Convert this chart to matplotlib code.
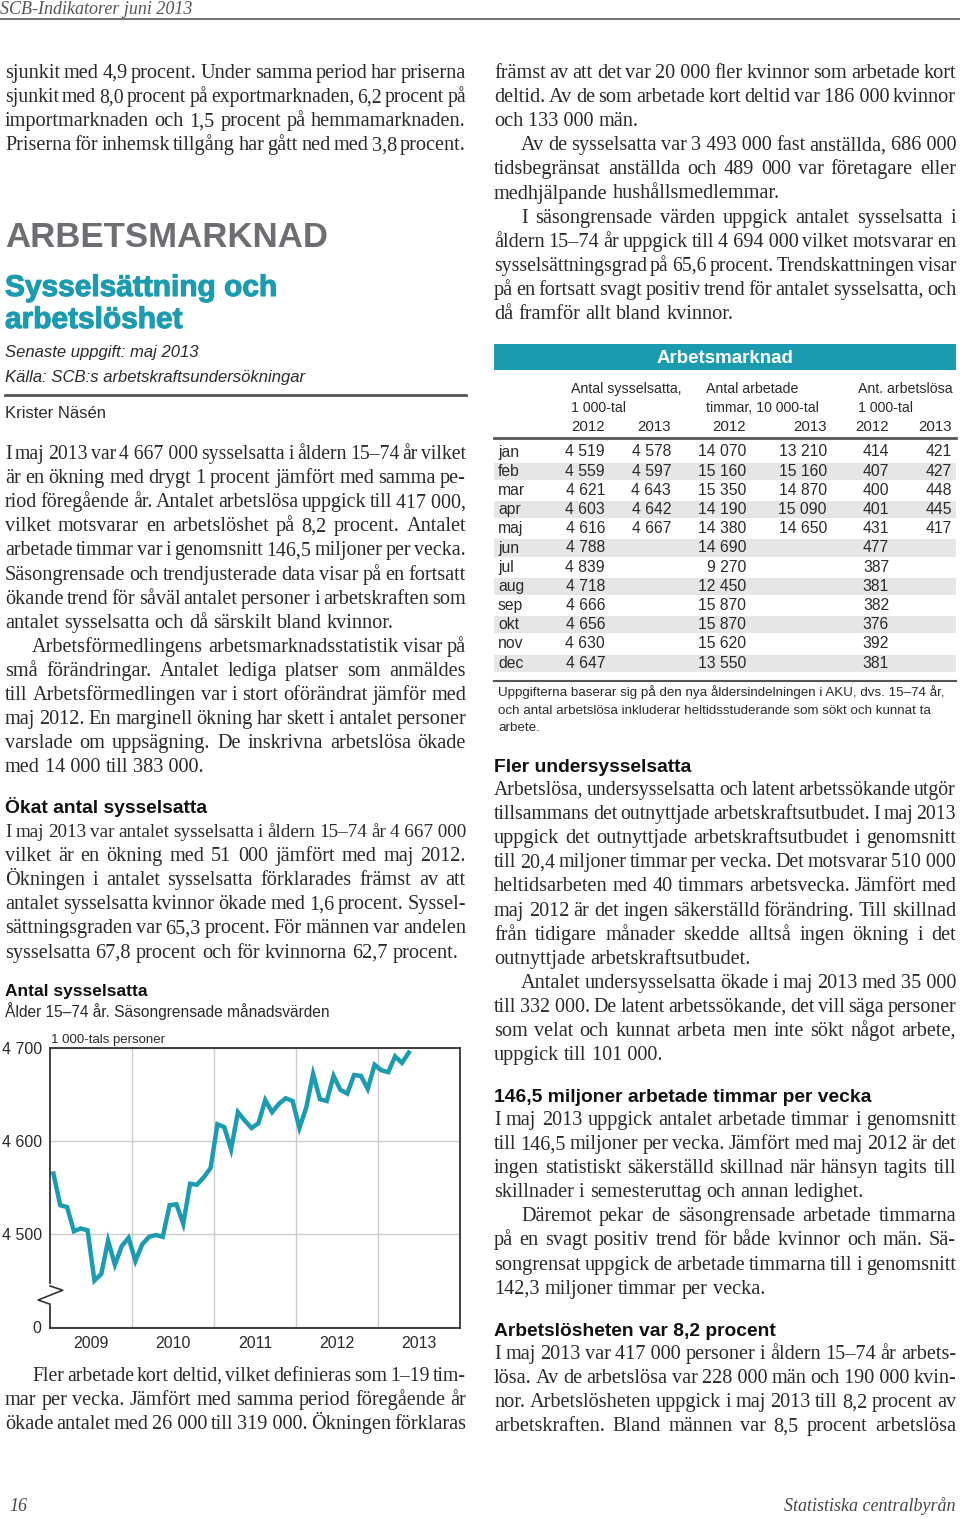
import numpy as np
import matplotlib.pyplot as plt
from matplotlib.patches import Rectangle
from matplotlib.lines import Line2D
import matplotlib.patheffects as pe

W, H = 960, 1519
TEAL = '#1b9bb0'
INK = '#2a2a2a'
SERIF = 'Liberation Serif'
SANS = 'Liberation Sans'

# chart data: seasonally adjusted employed, 1000s, Jan 2009 - May 2013
employed = [4565, 4531, 4529, 4503, 4506, 4504, 4450, 4457, 4493, 4467, 4487, 4496,
            4471, 4489, 4497, 4499, 4497, 4531, 4532, 4511, 4554, 4553, 4561, 4571,
            4618, 4615, 4591, 4631, 4622, 4614, 4619, 4644, 4631, 4640, 4646, 4643,
            4614, 4636, 4672, 4645, 4643, 4670, 4655, 4651, 4671, 4670, 4656, 4682,
            4676, 4674, 4691, 4684, 4695]
years = ['2009', '2010', '2011', '2012', '2013']
ytick_vals = [4400, 4500, 4600, 4700]
ytick_labels = ['0', '4 500', '4 600', '4 700']

# table data
months = ['jan', 'feb', 'mar', 'apr', 'maj', 'jun', 'jul', 'aug', 'sep', 'okt', 'nov', 'dec']
sys_2012 = [4519, 4559, 4621, 4603, 4616, 4788, 4839, 4718, 4666, 4656, 4630, 4647]
sys_2013 = [4578, 4597, 4643, 4642, 4667]
tim_2012 = [14070, 15160, 15350, 14190, 14380, 14690, 9270, 12450, 15870, 15870, 15620, 13550]
tim_2013 = [13210, 15160, 14870, 15090, 14650]
arb_2012 = [414, 407, 400, 401, 431, 477, 387, 381, 382, 376, 392, 381]
arb_2013 = [421, 427, 448, 445, 417]

fig = plt.figure(figsize=(W / 100, H / 100), dpi=100)
renderer = fig.canvas.get_renderer()


def fx(x):
    return x / W


def fy(y):
    return 1 - y / H


def put(x, y, s, **kw):
    kw.setdefault('color', INK)
    return fig.text(fx(x), fy(y), s, **kw)


def body(x0, x1, y0, lines, step=24.1, size=14.6):
    # '+' prefix = indented first line, '=' suffix = last line of paragraph,
    # '_' = non-breaking space inside numbers
    y = y0
    for line in lines:
        xs = x0
        last = line.endswith('=')
        if line.startswith('+'):
            xs += 27
            line = line[1:]
        line = line.rstrip('=')
        words = [w.replace('_', ' ') for w in line.split(' ')]
        sz = size
        while True:
            kw = dict(family=SERIF, size=sz, va='baseline', color=INK)
            texts = [put(0, 0, w, **kw) for w in words]
            widths = [t.get_window_extent(renderer).width for t in texts]
            gap = (x1 - xs - sum(widths)) / max(len(words) - 1, 1)
            if gap >= 3.0 or sz < 12:
                break
            for t in texts:
                t.remove()
            sz -= 0.2
        if last:
            gap = min(gap, sz * 0.25 * 100 / 72)
        x = xs
        for t, w in zip(texts, widths):
            t.set_position((fx(x), fy(y)))
            x += w + gap
        y += step


def head(x, y, s, size=13.9):
    put(x, y, s, family=SANS, weight='bold', size=size, va='baseline', color='#111111')


def hline(x0, x1, y, lw=1.5, color='#555555'):
    fig.add_artist(Line2D([fx(x0), fx(x1)], [fy(y), fy(y)], lw=lw, color=color))


# page header / footer
put(0, 14, 'SCB-Indikatorer juni 2013', family=SERIF, style='italic', size=13,
    va='baseline', color='#555555')
hline(0, 960, 19, lw=1.3, color='#666666')
put(9, 1511, '16', family=SERIF, style='italic', size=13, va='baseline', color='#444444')
put(956, 1511, 'Statistiska centralbyrån', family=SERIF, style='italic', size=13,
    va='baseline', ha='right', color='#444444')

# left column
L0, L1 = 5, 466
body(L0, L1, 78, [
    'sjunkit med 4,9 procent. Under samma period har priserna',
    'sjunkit med 8,0 procent på exportmarknaden, 6,2 procent på',
    'importmarknaden och 1,5 procent på hemmamarknaden.',
    'Priserna för inhemsk tillgång har gått ned med 3,8 procent.=',
])

put(L0, 247, 'ARBETSMARKNAD', family=SANS, weight='bold', size=25, va='baseline',
    color='#6d6e71')
thick = [pe.withStroke(linewidth=0.8, foreground=TEAL)]
put(L0, 296, 'Sysselsättning och', family=SANS, weight='bold', size=21.5, va='baseline',
    color=TEAL, path_effects=thick)
put(L0, 328, 'arbetslöshet', family=SANS, weight='bold', size=21.5, va='baseline',
    color=TEAL, path_effects=thick)
put(L0, 357, 'Senaste uppgift: maj 2013', family=SANS, style='italic', size=12,
    va='baseline')
put(L0, 382, 'Källa: SCB:s arbetskraftsundersökningar', family=SANS, style='italic',
    size=12, va='baseline')
hline(L0, L1, 395, lw=2, color='#555555')
put(L0, 418, 'Krister Näsén', family=SANS, size=12, va='baseline')

body(L0, L1, 459, [
    'I maj 2013 var 4_667_000 sysselsatta i åldern 15–74 år vilket',
    'är en ökning med drygt 1 procent jämfört med samma pe-',
    'riod föregående år. Antalet arbetslösa uppgick till 417_000,',
    'vilket motsvarar en arbetslöshet på 8,2 procent. Antalet',
    'arbetade timmar var i genomsnitt 146,5 miljoner per vecka.',
    'Säsongrensade och trendjusterade data visar på en fortsatt',
    'ökande trend för såväl antalet personer i arbetskraften som',
    'antalet sysselsatta och då särskilt bland kvinnor.=',
    '+Arbetsförmedlingens arbetsmarknadsstatistik visar på',
    'små förändringar. Antalet lediga platser som anmäldes',
    'till Arbetsförmedlingen var i stort oförändrat jämför med',
    'maj 2012. En marginell ökning har skett i antalet personer',
    'varslade om uppsägning. De inskrivna arbetslösa ökade',
    'med 14_000 till 383_000.=',
])

head(L0, 813, 'Ökat antal sysselsatta')
body(L0, L1, 837, [
    'I maj 2013 var antalet sysselsatta i åldern 15–74 år 4_667_000',
    'vilket är en ökning med 51 000 jämfört med maj 2012.',
    'Ökningen i antalet sysselsatta förklarades främst av att',
    'antalet sysselsatta kvinnor ökade med 1,6 procent. Syssel-',
    'sättningsgraden var 65,3 procent. För männen var andelen',
    'sysselsatta 67,8 procent och för kvinnorna 62,7 procent.=',
])

# chart
head(L0, 996, 'Antal sysselsatta', size=12.5)
put(L0, 1017, 'Ålder 15–74 år. Säsongrensade månadsvärden', family=SANS, size=11.2,
    va='baseline')
put(51, 1043, '1 000-tals personer', family=SANS, size=9.5, va='baseline')

ax = fig.add_axes([fx(50), fy(1328), 410 / W, 280 / H])
x = np.arange(len(employed)) + 0.5
ax.plot(x, employed, color=TEAL, lw=3.2, solid_joinstyle='miter', zorder=3)
ax.set_xlim(0, 12 * len(years))
ax.set_ylim(4399, 4700)
ax.set_xticks(np.arange(12, 12 * len(years), 12))
ax.set_xticklabels([])
ax.set_xticks(np.arange(6, 12 * len(years), 12), minor=True)
ax.set_xticklabels(years, minor=True, family=SANS, size=11.5, color=INK)
ax.set_yticks(ytick_vals)
ax.set_yticklabels(ytick_labels, family=SANS, size=11.5, color=INK)
ax.tick_params(which='both', length=0, pad=6)
ax.tick_params(axis='y', pad=6)
ax.grid(True, which='major', color='#cccccc', lw=1)
for sp in ax.spines.values():
    sp.set_color('#333333')
    sp.set_linewidth(1.3)
# axis break mark
ax.plot([0, 0], [0.09, 0.15], transform=ax.transAxes, color='white', lw=3,
        clip_on=False, zorder=5)
ax.plot([0.0, 0.031, -0.029, 0.0], [0.15, 0.135, 0.10, 0.085], transform=ax.transAxes,
        color='#333333', lw=1.2, clip_on=False, zorder=6)

body(L0, L1, 1381, [
    '+Fler arbetade kort deltid, vilket definieras som 1–19 tim-',
    'mar per vecka. Jämfört med samma period föregående år',
    'ökade antalet med 26_000 till 319_000. Ökningen förklaras',
])

# right column
R0, R1 = 494, 956
body(R0, R1, 78, [
    'främst av att det var 20_000 fler kvinnor som arbetade kort',
    'deltid. Av de som arbetade kort deltid var 186_000 kvinnor',
    'och 133_000 män.=',
    '+Av de sysselsatta var 3_493_000 fast anställda, 686_000',
    'tidsbegränsat anställda och 489 000 var företagare eller',
    'medhjälpande hushållsmedlemmar.=',
    '+I säsongrensade värden uppgick antalet sysselsatta i',
    'åldern 15–74 år uppgick till 4_694_000 vilket motsvarar en',
    'sysselsättningsgrad på 65,6 procent. Trendskattningen visar',
    'på en fortsatt svagt positiv trend för antalet sysselsatta, och',
    'då framför allt bland kvinnor.=',
])

# table
fig.add_artist(Rectangle((fx(R0), fy(370)), (R1 - R0) / W, 26 / H, color=TEAL, lw=0))
put((R0 + R1) / 2, 363, 'Arbetsmarknad', family=SANS, weight='bold', size=13.5,
    ha='center', va='baseline', color='white')
hdr = dict(family=SANS, size=10.2, va='baseline')
put(571, 393, 'Antal sysselsatta,', **hdr)
put(571, 412, '1 000-tal', **hdr)
put(706, 393, 'Antal arbetade', **hdr)
put(706, 412, 'timmar, 10 000-tal', **hdr)
put(858, 393, 'Ant. arbetslösa', **hdr)
put(858, 412, '1 000-tal', **hdr)
col_right = [605, 671, 746, 827, 889, 952]
for xr, yr in zip(col_right, ['2012', '2013'] * 3):
    put(xr, 431, yr, ha='right', family=SANS, size=10.8, va='baseline')
hline(R0, R1, 438, lw=2, color='#555555')

columns = [sys_2012, sys_2013, tim_2012, tim_2013, arb_2012, arb_2013]
row_h = 19.2
for i, m in enumerate(months):
    yc = 452 + i * row_h
    if i % 2 == 1:
        fig.add_artist(Rectangle((fx(R0), fy(yc + row_h / 2 - 1)), (R1 - R0) / W,
                                 (row_h - 2) / H, color='#e6e6e6', lw=0, zorder=0))
    put(498, yc + 4.5, m, family=SANS, size=11.3, va='baseline')
    for xr, col in zip(col_right, columns):
        if i < len(col):
            put(xr, yc + 4.5, f'{col[i]:,}'.replace(',', ' '), family=SANS, size=11.3,
                ha='right', va='baseline')
hline(R0, R1, 681, lw=1.5, color='#555555')
note = dict(family=SANS, size=9.6, va='baseline')
put(498, 696, 'Uppgifterna baserar sig på den nya åldersindelningen i AKU, dvs. 15–74 år,', **note)
put(498, 714, 'och antal arbetslösa inkluderar heltidsstuderande som sökt och kunnat ta', **note)
put(498, 731, 'arbete.', **note)

head(R0, 772, 'Fler undersysselsatta')
body(R0, R1, 795, [
    'Arbetslösa, undersysselsatta och latent arbetssökande utgör',
    'tillsammans det outnyttjade arbetskraftsutbudet. I maj 2013',
    'uppgick det outnyttjade arbetskraftsutbudet i genomsnitt',
    'till 20,4 miljoner timmar per vecka. Det motsvarar 510_000',
    'heltidsarbeten med 40 timmars arbetsvecka. Jämfört med',
    'maj 2012 är det ingen säkerställd förändring. Till skillnad',
    'från tidigare månader skedde alltså ingen ökning i det',
    'outnyttjade arbetskraftsutbudet.=',
    '+Antalet undersysselsatta ökade i maj 2013 med 35_000',
    'till 332_000. De latent arbetssökande, det vill säga personer',
    'som velat och kunnat arbeta men inte sökt något arbete,',
    'uppgick till 101_000.=',
])

head(R0, 1102, '146,5 miljoner arbetade timmar per vecka')
body(R0, R1, 1125, [
    'I maj 2013 uppgick antalet arbetade timmar i genomsnitt',
    'till 146,5 miljoner per vecka. Jämfört med maj 2012 är det',
    'ingen statistiskt säkerställd skillnad när hänsyn tagits till',
    'skillnader i semesteruttag och annan ledighet.=',
    '+Däremot pekar de säsongrensade arbetade timmarna',
    'på en svagt positiv trend för både kvinnor och män. Sä-',
    'songrensat uppgick de arbetade timmarna till i genomsnitt',
    '142,3 miljoner timmar per vecka.=',
])

head(R0, 1336, 'Arbetslösheten var 8,2 procent')
body(R0, R1, 1359, [
    'I maj 2013 var 417_000 personer i åldern 15–74 år arbets-',
    'lösa. Av de arbetslösa var 228_000 män och 190_000 kvin-',
    'nor. Arbetslösheten uppgick i maj 2013 till 8,2 procent av',
    'arbetskraften. Bland männen var 8,5 procent arbetslösa',
])

fig.savefig('out.png', dpi=100, facecolor='white')
